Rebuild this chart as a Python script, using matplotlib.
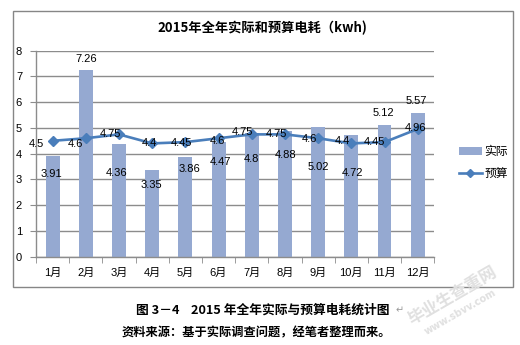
import matplotlib
matplotlib.use("Agg")
import matplotlib.pyplot as plt
from matplotlib.patches import Rectangle, Patch
from matplotlib.lines import Line2D
import numpy as np

plt.rcParams['font.family'] = ['Liberation Sans', 'Noto Sans CJK SC', 'DejaVu Sans']

months = ['1月', '2月', '3月', '4月', '5月', '6月', '7月', '8月', '9月', '10月', '11月', '12月']
actual = [3.91, 7.26, 4.36, 3.35, 3.86, 4.47, 4.8, 4.88, 5.02, 4.72, 5.12, 5.57]
budget = [4.5, 4.6, 4.75, 4.4, 4.45, 4.6, 4.75, 4.75, 4.6, 4.4, 4.45, 4.96]
yticks = [0, 1, 2, 3, 4, 5, 6, 7, 8]
title = '2015年全年实际和预算电耗（kwh)'
caption = '图 3－4    2015 年全年实际与预算电耗统计图'
source = '资料来源：基于实际调查问题，经笔者整理而来。'
series_names = ['实际', '预算']

# label offsets in pixels (dx, dy) as placed in the reference
actual_lbl_off = [(-1, -18), (0, 11), (-2, -29), (-1, -15), (4, -12), (2, -20),
                  (0, -26), (1, -24), (0, -40), (1, -38), (-1, 12), (-1, 12)]
budget_lbl_off = [(-16, -3), (-10, -6), (-9, 0), (-3, 0), (-4, -1), (-1, -3),
                  (-9, 2), (-9, 0), (-9, -1), (-9, 2), (-10, 0), (-2, 1)]

W, H = 520, 345
fig = plt.figure(figsize=(W / 100, H / 100), dpi=100)
fig.patch.set_facecolor('white')

# chart border box
fig.patches.append(Rectangle((12.5 / W, 1 - 287 / H), (513 - 12.5) / W, (287 - 10.5) / H,
                             transform=fig.transFigure, fill=False,
                             edgecolor='#868686', lw=1.0))

ax = fig.add_axes([36 / W, 1 - 256.7 / H, (434.3 - 36) / W, (256.7 - 50.7) / H])
x = np.arange(len(months))
bar_color = '#95A9D1'
line_color = '#4A7EBB'
grid_color = '#8C8C8C'

ax.bar(x, actual, width=0.42, color=bar_color, zorder=2)
ax.plot(x, budget, color=line_color, lw=1.9, marker='D', ms=5.5,
        markerfacecolor=line_color, markeredgecolor=line_color, zorder=3)

ax.set_xlim(-0.5, len(months) - 0.5)
ax.set_ylim(0, 8)
ax.set_yticks(yticks)
ax.set_yticklabels([str(v) for v in yticks], fontsize=8)
ax.set_xticks(x)
ax.set_xticklabels(months, fontsize=8)
ax.tick_params(axis='x', length=0, pad=8)
ax.tick_params(axis='y', length=4, color=grid_color, pad=6)
ax.set_xticks(np.arange(-0.5, len(months)), minor=True)
ax.tick_params(axis='x', which='minor', length=4, color=grid_color)
ax.yaxis.grid(True, color=grid_color, lw=1.0, zorder=0)
ax.set_axisbelow(True)
for s in ['top', 'right']:
    ax.spines[s].set_visible(False)
for s in ['left', 'bottom']:
    ax.spines[s].set_color(grid_color)
    ax.spines[s].set_linewidth(1.0)

for i, v in enumerate(actual):
    dx, dy = actual_lbl_off[i]
    ax.annotate(f'{v:g}', (x[i], v), xytext=(dx, dy), textcoords='offset pixels',
                ha='center', va='center', fontsize=8, color='black', zorder=5)
for i, v in enumerate(budget):
    dx, dy = budget_lbl_off[i]
    ax.annotate(f'{v:g}', (x[i], v), xytext=(dx, dy), textcoords='offset pixels',
                ha='center', va='center', fontsize=8, color='black', zorder=5)

fig.text(262 / W, 1 - 28 / H, title, ha='center', va='center', fontsize=9.5,
         fontweight='bold', family=['Noto Sans CJK SC', 'DejaVu Sans'])

handles = [Patch(facecolor=bar_color, edgecolor='none'),
           Line2D([0], [0], color=line_color, lw=1.9, marker='D', ms=4.5)]
fig.legend(handles, series_names, loc='center left',
           bbox_to_anchor=(448 / W, 1 - 162.5 / H), frameon=False,
           handlelength=1.95, handleheight=0.6, handletextpad=0.25, labelspacing=0.75,
           prop={'family': ['Noto Sans CJK SC', 'DejaVu Sans'], 'size': 8.5})

fig.text(263 / W, 1 - 310 / H, caption, ha='center', va='center', fontsize=9.2,
         fontweight='bold', family=['Noto Sans CJK SC', 'DejaVu Sans'])
fig.text(396 / W, 1 - 310 / H, '↵', ha='left', va='center', fontsize=7,
         color='#999999', family=['DejaVu Sans'])
fig.text(256 / W, 1 - 333 / H, source, ha='center', va='center', fontsize=8.8,
         fontweight='heavy', family=['Noto Sans CJK SC', 'DejaVu Sans'])

# watermark
fig.text(452 / W, 1 - 296 / H, '毕业生查重网', ha='center', va='center', fontsize=12,
         rotation=30, color='#e0e0e0', fontweight='bold',
         family=['Noto Sans CJK SC', 'DejaVu Sans'])
fig.text(460 / W, 1 - 312 / H, 'www.sbvv.com', ha='center', va='center', fontsize=7,
         rotation=30, color='#e0e0e0', fontweight='bold', family=['DejaVu Sans'])

fig.savefig('out.png', dpi=100, facecolor='white')
